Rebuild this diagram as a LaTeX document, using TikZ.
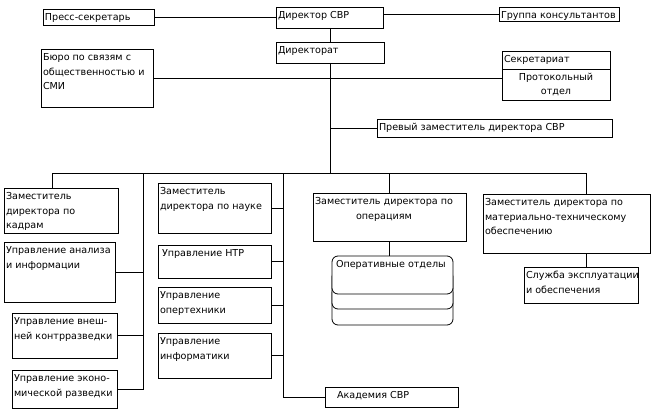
\documentclass[tikz,border=0pt]{standalone}
\usepackage{fontspec}
\setmainfont{DejaVu Sans}
\usetikzlibrary{shadows}

\newcommand{\orgfont}{\fontsize{9.6}{14.5}\selectfont}
% text block at the top left of a box of fixed size
\newcommand{\boxtext}[4][@{}l@{}]{\parbox[c][#3][t]{#2}{\begin{tabular}[t]{#1}#4\end{tabular}}}

\tikzset{
  unit/.style={draw, anchor=north west, inner xsep=2pt, inner ysep=1.5pt, outer sep=0pt, font=\orgfont},
  stack/.style={unit, rounded corners=6pt, fill=white,
    copy shadow={shadow xshift=0pt, shadow yshift=-31pt, fill=white, draw=black},
    copy shadow={shadow xshift=0pt, shadow yshift=-15pt, fill=white, draw=black}},
}

\begin{document}
\begin{tikzpicture}[x=1pt, y=-1pt, line width=0.8pt]
  \useasboundingbox (0,0) rectangle (657,420);

  % top of the chart
  \node[unit] (dir) at (276,7) {\boxtext{103pt}{18pt}{Директор СВР}};
  \node[unit] (press) at (43,9) {\boxtext{107pt}{13pt}{Пресс-секретарь}};
  \node[unit] (consult) at (499,7) {\boxtext{116pt}{11pt}{Группа консультантов}};
  \node[unit] (dirat) at (276,42) {\boxtext{104pt}{18pt}{Директорат}};
  \node[unit] (buro) at (41,49) {\boxtext{108pt}{55pt}{Бюро по связям с\\общественностью и\\СМИ}};
  \node[unit] (secr) at (502,51) {\boxtext{104pt}{15pt}{Секретариат}};
  \node[unit, anchor=north, minimum width=108pt, minimum height=31pt, align=center]
    (prot) at (secr.south) {Протокольный\\отдел};
  \node[unit] (first) at (377,119) {\boxtext{231pt}{15pt}{Превый заместитель директора СВР}};

  \coordinate (hub) at (330,173);
  \draw (press.east) -- (press.east -| dir.west);
  \draw (dir.east |- consult.west) -- (consult.west);
  \draw (dir.south -| hub) -- (dirat.north -| hub);
  \draw (dirat.south -| hub) -- (hub);
  \draw (buro.east) -- (buro.east -| prot.west);
  \draw (first.west -| hub) -- (first.west);

  % deputies
  \node[unit] (kadr) at (4,188) {\boxtext{110pt}{42pt}{Заместитель\\директора по\\кадрам}};
  \node[unit] (analiz) at (4,242) {\boxtext{107pt}{57pt}{Управление анализа\\и информации}};
  \node[unit] (kontr) at (12,313) {\boxtext{101pt}{42pt}{Управление внеш-\\ней контрразведки}};
  \node[unit] (econ) at (12,370) {\boxtext{101pt}{35pt}{Управление эконо-\\мической разведки}};

  \node[unit] (nauka) at (158,183) {\boxtext{109pt}{47pt}{Заместитель\\директора по науке}};
  \node[unit] (ntr) at (158,245) {\boxtext{109pt}{30pt}{\hspace*{2pt}Управление НТР}};
  \node[unit] (opert) at (158,287) {\boxtext{109pt}{33pt}{Управление\\опертехники}};
  \node[unit] (inform) at (158,333) {\boxtext{109pt}{42pt}{Управление\\информатики}};
  \node[unit] (akad) at (325,387) {\boxtext{129pt}{17pt}{\hspace*{10pt}Академия СВР}};

  \node[unit] (oper) at (313,193) {\boxtext[@{}c@{}]{149pt}{45pt}{Заместитель директора по\\операциям}};
  \node[stack] (opotd) at (332,256) {\boxtext{117pt}{35pt}{\hspace*{2pt}Оперативные отделы}};

  \node[unit] (mto) at (483,194) {\boxtext{163pt}{56pt}{Заместитель директора по\\материально-техническому\\обеспечению}};
  \node[unit] (sluzh) at (524,267) {\boxtext{110pt}{33pt}{Служба эксплуатации\\и обеспечения}};

  \coordinate (busL) at (52,173);
  \coordinate (busR) at (586,173);
  \coordinate (colA) at (143,173);
  \coordinate (colB) at (283,173);
  \draw (busL |- kadr.north) -- (busL) -- (busR) -- (busR |- mto.north);
  \draw (busR |- mto.south) -- (busR |- sluzh.north);
  \draw (colA) -- (colA |- econ.east) -- (econ.east);
  \draw (analiz.east) -- (analiz.east -| colA);
  \draw (kontr.east) -- (kontr.east -| colA);
  \draw (colB) -- (colB |- akad.west) -- (akad.west);
  \foreach \n in {nauka,ntr,opert,inform}
    \draw (\n.east) -- (\n.east -| colB);
  \draw (oper.north |- hub) -- (oper.north);
  \draw (oper.south) -- (oper.south |- opotd.north);
\end{tikzpicture}
\end{document}
